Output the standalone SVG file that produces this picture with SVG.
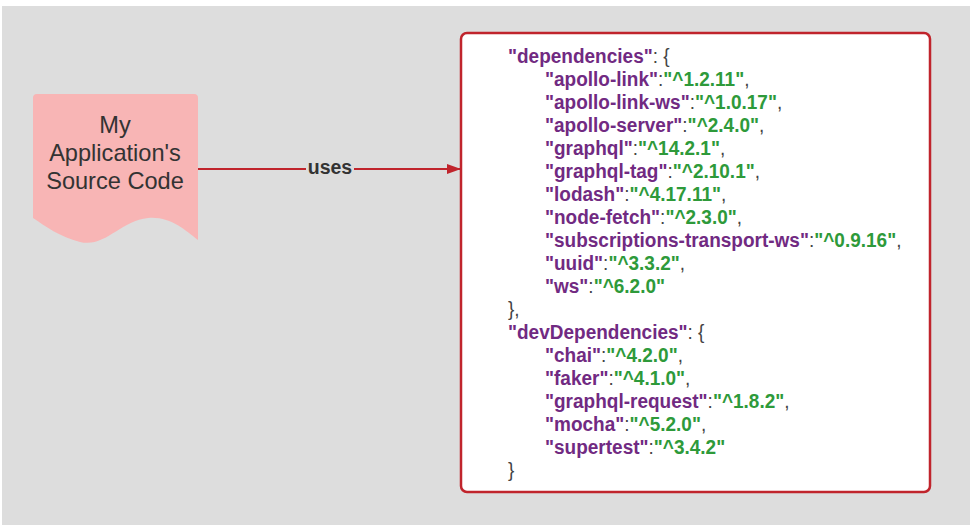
<svg xmlns="http://www.w3.org/2000/svg" width="975" height="525" viewBox="0 0 975 525">
<defs>
<style>
.bg{fill:#dddddd}
.doc{fill:#f8b5b5}
.doct{font-family:"Liberation Sans",Arial,sans-serif;font-size:23.6px;fill:#333333;text-anchor:middle}
.lbl{font-family:"Liberation Sans",Arial,sans-serif;font-size:19.5px;font-weight:bold;fill:#333333;text-anchor:middle}
.code{font-family:"Liberation Sans",Arial,sans-serif;font-size:19px;font-weight:bold;fill:#333333}
.k{fill:#712a82}
.v{fill:#2e9a3a}
.p{fill:#444444;font-weight:normal}
.conn{stroke:#c0242c;stroke-width:2;fill:none}
</style>
<marker id="ah" markerWidth="14" markerHeight="10" refX="13" refY="5" orient="auto" markerUnits="userSpaceOnUse">
<path d="M0,0 L14,5 L0,10 Z" fill="#c0242c"/>
</marker>
</defs>
<rect x="0" y="0" width="975" height="525" fill="#ffffff"/>
<rect class="bg" x="2" y="6" width="968" height="519"/>
<g id="connectors">
<line class="conn" x1="198" y1="169" x2="460" y2="169" marker-end="url(#ah)"/>
<rect x="306" y="158" width="48" height="20" fill="#dddddd"/>
<text class="lbl" x="330" y="174">uses</text>
</g>
<g id="source-code">
<path class="doc" d="M33,98 Q33,94 37,94 H194 Q198,94 198,98 V240 C185,230 170,216 148,218 C120,221 105,248 80,242 C60,237 45,226 33,218 Z"/>
<text class="doct" x="115" y="133">My</text>
<text class="doct" x="115" y="161">Application's</text>
<text class="doct" x="115" y="189">Source Code</text>
</g>
<g id="package-json">
<rect x="461" y="33" width="469" height="459" rx="6" ry="6" fill="#ffffff" stroke="#c0242c" stroke-width="2.5"/>
<text class="code" transform="translate(508,63) scale(1,1.1)"><tspan class="k">"dependencies"</tspan><tspan class="p">: {</tspan></text>
<text class="code" transform="translate(545,86) scale(1,1.1)"><tspan class="k">"apollo-link"</tspan><tspan class="p">:</tspan><tspan class="v">"^1.2.11"</tspan><tspan class="p">,</tspan></text>
<text class="code" transform="translate(545,109) scale(1,1.1)"><tspan class="k">"apollo-link-ws"</tspan><tspan class="p">:</tspan><tspan class="v">"^1.0.17"</tspan><tspan class="p">,</tspan></text>
<text class="code" transform="translate(545,132) scale(1,1.1)"><tspan class="k">"apollo-server"</tspan><tspan class="p">:</tspan><tspan class="v">"^2.4.0"</tspan><tspan class="p">,</tspan></text>
<text class="code" transform="translate(545,155) scale(1,1.1)"><tspan class="k">"graphql"</tspan><tspan class="p">:</tspan><tspan class="v">"^14.2.1"</tspan><tspan class="p">,</tspan></text>
<text class="code" transform="translate(545,178) scale(1,1.1)"><tspan class="k">"graphql-tag"</tspan><tspan class="p">:</tspan><tspan class="v">"^2.10.1"</tspan><tspan class="p">,</tspan></text>
<text class="code" transform="translate(545,201) scale(1,1.1)"><tspan class="k">"lodash"</tspan><tspan class="p">:</tspan><tspan class="v">"^4.17.11"</tspan><tspan class="p">,</tspan></text>
<text class="code" transform="translate(545,224) scale(1,1.1)"><tspan class="k">"node-fetch"</tspan><tspan class="p">:</tspan><tspan class="v">"^2.3.0"</tspan><tspan class="p">,</tspan></text>
<text class="code" transform="translate(545,247) scale(1,1.1)"><tspan class="k">"subscriptions-transport-ws"</tspan><tspan class="p">:</tspan><tspan class="v">"^0.9.16"</tspan><tspan class="p">,</tspan></text>
<text class="code" transform="translate(545,270) scale(1,1.1)"><tspan class="k">"uuid"</tspan><tspan class="p">:</tspan><tspan class="v">"^3.3.2"</tspan><tspan class="p">,</tspan></text>
<text class="code" transform="translate(545,293) scale(1,1.1)"><tspan class="k">"ws"</tspan><tspan class="p">:</tspan><tspan class="v">"^6.2.0"</tspan></text>
<text class="code" transform="translate(508,316) scale(1,1.1)"><tspan class="p">},</tspan></text>
<text class="code" transform="translate(508,339) scale(1,1.1)"><tspan class="k">"devDependencies"</tspan><tspan class="p">: {</tspan></text>
<text class="code" transform="translate(545,362) scale(1,1.1)"><tspan class="k">"chai"</tspan><tspan class="p">:</tspan><tspan class="v">"^4.2.0"</tspan><tspan class="p">,</tspan></text>
<text class="code" transform="translate(545,385) scale(1,1.1)"><tspan class="k">"faker"</tspan><tspan class="p">:</tspan><tspan class="v">"^4.1.0"</tspan><tspan class="p">,</tspan></text>
<text class="code" transform="translate(545,408) scale(1,1.1)"><tspan class="k">"graphql-request"</tspan><tspan class="p">:</tspan><tspan class="v">"^1.8.2"</tspan><tspan class="p">,</tspan></text>
<text class="code" transform="translate(545,431) scale(1,1.1)"><tspan class="k">"mocha"</tspan><tspan class="p">:</tspan><tspan class="v">"^5.2.0"</tspan><tspan class="p">,</tspan></text>
<text class="code" transform="translate(545,454) scale(1,1.1)"><tspan class="k">"supertest"</tspan><tspan class="p">:</tspan><tspan class="v">"^3.4.2"</tspan></text>
<text class="code" transform="translate(508,477) scale(1,1.1)"><tspan class="p">}</tspan></text>
</g>
</svg>
